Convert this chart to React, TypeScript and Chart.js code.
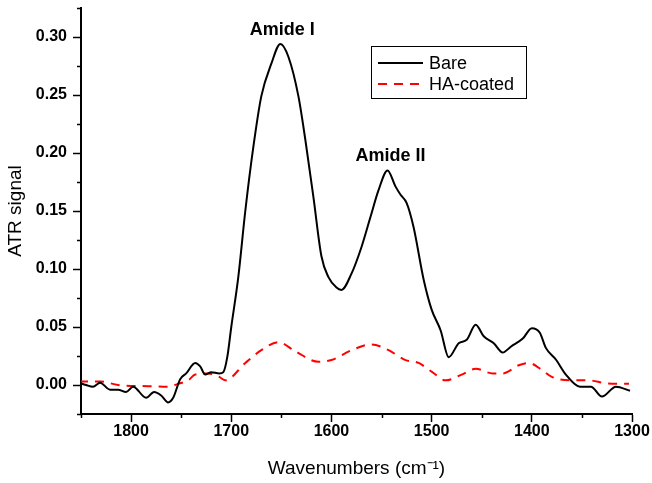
import React, { useEffect, useRef } from "react";
import { Chart, registerables } from "chart.js";

Chart.register(...registerables);

const seriesNames = ["Bare", "HA-coated"];
const annotationTexts = ["Amide I", "Amide II"];
const annotationWavenumbers = [1649, 1541];
const annotationSignals = [0.3017, 0.1933];

const bareWavenumbers = [
  1852, 1845, 1838, 1831, 1821, 1813, 1805, 1798, 1785, 1777, 1770, 1763, 1758,
  1751, 1745, 1736, 1731, 1726, 1720, 1712, 1708, 1704, 1700, 1693, 1686, 1678,
  1670, 1660, 1651, 1643, 1633, 1626, 1618, 1610, 1603, 1595, 1590, 1580, 1570,
  1561, 1553, 1544, 1536, 1531, 1525, 1518, 1508, 1500, 1491, 1483, 1473, 1465,
  1456, 1448, 1438, 1429, 1421, 1409, 1400, 1392, 1386, 1376, 1366, 1352, 1341,
  1330, 1316, 1302,
];
const bareSignal = [
  0.002, 0.0, -0.0015, 0.002, -0.004, -0.004, -0.006, -0.0015, -0.011, -0.006,
  -0.009, -0.015, -0.011, 0.005, 0.01, 0.019, 0.016, 0.009, 0.011, 0.01, 0.011,
  0.024, 0.05, 0.093, 0.15, 0.205, 0.249, 0.277, 0.294, 0.283, 0.249, 0.211,
  0.162, 0.111, 0.093, 0.084, 0.082, 0.096, 0.119, 0.145, 0.168, 0.185, 0.171,
  0.164, 0.157, 0.136, 0.091, 0.065, 0.047, 0.024, 0.036, 0.039, 0.052, 0.042,
  0.036, 0.028, 0.033, 0.04, 0.049, 0.045, 0.032, 0.022, 0.009, -0.0015,
  -0.0015, -0.01, -0.0015, -0.005,
];

const haWavenumbers = [
  1852, 1830, 1813, 1783, 1763, 1753, 1743, 1736, 1723, 1712, 1706, 1686, 1670,
  1653, 1636, 1613, 1600, 1580, 1560, 1543, 1526, 1513, 1500, 1486, 1470, 1456,
  1439, 1429, 1413, 1403, 1390, 1380, 1363, 1343, 1326, 1303,
];
const haSignal = [
  0.003, 0.003, 0.0, -0.001, -0.0015, 0.001, 0.004, 0.009, 0.01, 0.007, 0.004,
  0.019, 0.03, 0.037, 0.029, 0.02, 0.0215, 0.03, 0.035, 0.03, 0.0215, 0.019,
  0.0115, 0.004, 0.009, 0.014, 0.01, 0.01, 0.017, 0.019, 0.013, 0.007, 0.004,
  0.004, 0.0015, 0.001,
];

const FONT = "'Liberation Sans', Arial, Helvetica, sans-serif";

function isMajorY(v: number) {
  return Math.abs(Math.round(v * 1000) % 50) === 0;
}
function isMajorX(v: number) {
  return Math.round(v) % 100 === 0;
}

const decorPlugin = {
  id: "decor",
  afterDraw(chart: any) {
    const ctx = chart.ctx;
    const xs = chart.scales.x;
    const ys = chart.scales.y;
    const area = chart.chartArea;
    ctx.save();
    // minor ticks
    ctx.strokeStyle = "#000";
    ctx.lineWidth = 1.5;
    ys.ticks.forEach((t: any) => {
      if (!isMajorY(t.value)) {
        const py = Math.round(ys.getPixelForValue(t.value)) + 0.5;
        ctx.beginPath();
        ctx.moveTo(area.left, py);
        ctx.lineTo(area.left - 4, py);
        ctx.stroke();
      }
    });
    xs.ticks.forEach((t: any) => {
      if (!isMajorX(t.value)) {
        const px = Math.round(xs.getPixelForValue(t.value)) + 0.5;
        ctx.beginPath();
        ctx.moveTo(px, area.bottom);
        ctx.lineTo(px, area.bottom + 4);
        ctx.stroke();
      }
    });
    // annotations
    ctx.fillStyle = "#000";
    ctx.font = `bold 18px ${FONT}`;
    ctx.textAlign = "center";
    ctx.textBaseline = "alphabetic";
    annotationTexts.forEach((txt, i) => {
      ctx.fillText(
        txt,
        xs.getPixelForValue(annotationWavenumbers[i]),
        ys.getPixelForValue(annotationSignals[i])
      );
    });
    // legend
    const bx = area.left + 290.5;
    const by = area.top + 38.5;
    const bw = 155;
    const bh = 52;
    ctx.lineWidth = 1;
    ctx.strokeStyle = "#000";
    ctx.strokeRect(bx, by, bw, bh);
    ctx.font = `18px ${FONT}`;
    ctx.textAlign = "left";
    ctx.textBaseline = "middle";
    chart.data.datasets.forEach((ds: any, i: number) => {
      const ly = by + 16.5 + i * 21;
      ctx.beginPath();
      ctx.strokeStyle = ds.borderColor;
      ctx.lineWidth = 2;
      ctx.setLineDash(ds.borderDash || []);
      ctx.moveTo(bx + 6.5, ly);
      ctx.lineTo(bx + 51.5, ly);
      ctx.stroke();
      ctx.setLineDash([]);
      ctx.fillStyle = "#000";
      ctx.fillText(ds.label, bx + 57.5, ly + 1);
    });
    ctx.restore();
  },
};

export default function App() {
  const ref = useRef<HTMLCanvasElement | null>(null);
  useEffect(() => {
    if (!ref.current) return;
    const chart = new Chart(ref.current, {
      type: "line",
      data: {
        datasets: [
          {
            label: seriesNames[0],
            data: bareWavenumbers.map((w, i) => ({ x: w, y: bareSignal[i] })),
            borderColor: "#000000",
            borderWidth: 2,
            pointRadius: 0,
            tension: 0.4,
            cubicInterpolationMode: "monotone",
            fill: false,
          },
          {
            label: seriesNames[1],
            data: haWavenumbers.map((w, i) => ({ x: w, y: haSignal[i] })),
            borderColor: "#ff0000",
            borderWidth: 2,
            borderDash: [9, 7],
            pointRadius: 0,
            tension: 0.4,
            cubicInterpolationMode: "monotone",
            fill: false,
          },
        ],
      },
      options: {
        animation: false,
        responsive: false,
        maintainAspectRatio: false,
        layout: { padding: { left: 0, top: 8, right: 20, bottom: 0 } },
        plugins: { legend: { display: false }, tooltip: { enabled: false } },
        scales: {
          x: {
            type: "linear",
            reverse: true,
            min: 1300,
            max: 1850,
            afterFit: (s: any) => {
              s.height = 69;
              s.paddingLeft = 0;
              s.paddingRight = 0;
            },
            ticks: {
              stepSize: 50,
              autoSkip: false,
              maxRotation: 0,
              padding: 0,
              color: "#000",
              font: { family: FONT, size: 16, weight: "bold" },
              callback: (v: any) => (isMajorX(Number(v)) ? String(v) : ""),
            },
            grid: {
              display: true,
              drawOnChartArea: false,
              drawTicks: true,
              tickLength: 8,
              tickWidth: 1.5,
              tickColor: (c: any) =>
                c.tick && isMajorX(c.tick.value) ? "#000" : "rgba(0,0,0,0)",
            },
            border: { display: true, color: "#000", width: 2 },
            title: {
              display: true,
              text: "Wavenumbers (cm\u207B\u00B9)",
              color: "#000",
              font: { family: FONT, size: 19 },
              padding: { top: 0, bottom: 3 },
            },
          },
          y: {
            type: "linear",
            min: -0.025,
            max: 0.325,
            afterFit: (s: any) => {
              s.width = 81;
              s.paddingTop = 0;
              s.paddingBottom = 0;
            },
            ticks: {
              stepSize: 0.025,
              autoSkip: false,
              padding: 6,
              color: "#000",
              font: { family: FONT, size: 16, weight: "bold" },
              callback: (v: any) =>
                isMajorY(Number(v)) ? Number(v).toFixed(2) : "",
            },
            grid: {
              display: true,
              drawOnChartArea: false,
              drawTicks: true,
              tickLength: 8,
              tickWidth: 1.5,
              tickColor: (c: any) =>
                c.tick && isMajorY(c.tick.value) ? "#000" : "rgba(0,0,0,0)",
            },
            border: { display: true, color: "#000", width: 2 },
            title: {
              display: true,
              text: "ATR signal",
              color: "#000",
              font: { family: FONT, size: 19 },
              padding: { top: 4, bottom: 0 },
            },
          },
        },
      },
      plugins: [decorPlugin],
    } as any);
    return () => chart.destroy();
  }, []);
  return (
    <div style={{ position: "absolute", left: 0, top: 0, width: 652, height: 483, background: "#fff" }}>
      <canvas ref={ref} width={652} height={483} style={{ width: 652, height: 483 }} />
    </div>
  );
}
